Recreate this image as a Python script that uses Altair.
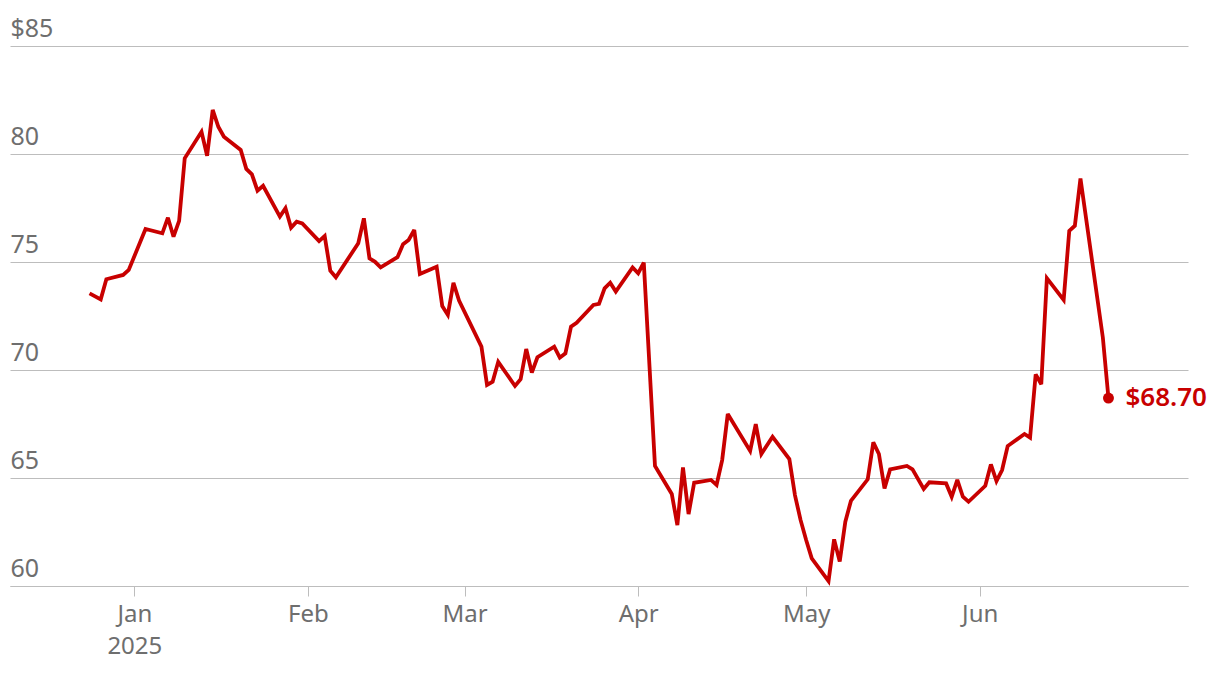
import altair as alt
import pandas as pd

dates = ["2024-12-24","2024-12-26","2024-12-27","2024-12-30","2024-12-31",
 "2025-01-03","2025-01-06","2025-01-07","2025-01-08","2025-01-09","2025-01-10","2025-01-13","2025-01-14","2025-01-15","2025-01-16","2025-01-17","2025-01-20","2025-01-21","2025-01-22","2025-01-23","2025-01-24","2025-01-27","2025-01-28","2025-01-29","2025-01-30","2025-01-31",
 "2025-02-03","2025-02-04","2025-02-05","2025-02-06","2025-02-10","2025-02-11","2025-02-12","2025-02-13","2025-02-14","2025-02-17","2025-02-18","2025-02-19","2025-02-20","2025-02-21","2025-02-24","2025-02-25","2025-02-26","2025-02-27","2025-02-28",
 "2025-03-04","2025-03-05","2025-03-06","2025-03-07","2025-03-10","2025-03-11","2025-03-12","2025-03-13","2025-03-14","2025-03-17","2025-03-18","2025-03-19","2025-03-20","2025-03-21","2025-03-24","2025-03-25","2025-03-26","2025-03-27","2025-03-28","2025-03-31",
 "2025-04-01","2025-04-02","2025-04-04","2025-04-07","2025-04-08","2025-04-09","2025-04-10","2025-04-11","2025-04-14","2025-04-15","2025-04-16","2025-04-17","2025-04-21","2025-04-22","2025-04-23","2025-04-25","2025-04-28","2025-04-29","2025-04-30",
 "2025-05-01","2025-05-02","2025-05-05","2025-05-06","2025-05-07","2025-05-08","2025-05-09","2025-05-12","2025-05-13","2025-05-14","2025-05-15","2025-05-16","2025-05-19","2025-05-20","2025-05-22","2025-05-23","2025-05-26","2025-05-27","2025-05-28","2025-05-29","2025-05-30",
 "2025-06-02","2025-06-03","2025-06-04","2025-06-05","2025-06-06","2025-06-09","2025-06-10","2025-06-11","2025-06-12","2025-06-13","2025-06-16","2025-06-17","2025-06-18","2025-06-19","2025-06-23","2025-06-24"]

prices = [73.55,73.27,74.20,74.40,74.63,
 76.53,76.33,77.05,76.17,76.90,79.80,81.03,79.92,82.04,81.26,80.80,80.19,79.31,79.06,78.30,78.53,77.10,77.49,76.59,76.87,76.79,
 75.97,76.20,74.60,74.29,75.87,77.02,75.17,75.01,74.75,75.22,75.82,76.02,76.48,74.44,74.78,72.96,72.55,74.04,73.21,
 71.08,69.31,69.46,70.38,69.26,69.57,70.97,69.88,70.59,71.08,70.57,70.77,72.01,72.19,73.01,73.06,73.78,74.04,73.63,74.75,
 74.48,74.97,65.56,64.26,62.82,65.49,63.33,64.78,64.91,64.68,65.83,67.96,66.25,67.49,66.11,66.91,65.88,64.21,63.06,
 62.13,61.28,60.23,62.16,61.13,62.98,63.94,64.94,66.65,66.11,64.52,65.40,65.56,65.40,64.49,64.80,64.75,64.13,64.91,64.13,63.90,
 64.64,65.63,64.86,65.37,66.48,67.04,66.87,69.80,69.34,74.25,73.24,76.44,76.68,78.87,71.50,68.70]

y_ticks = [60, 65, 70, 75, 80, 85]
x_tick_months = [1, 2, 3, 4, 5, 6]

df = pd.DataFrame({"date": dates, "price": prices})
last = pd.DataFrame({"date": [dates[-1]], "price": [prices[-1]],
                     "label": ["$" + format(prices[-1], ".2f")]})

RED = "#c80000"
GRAY = "#6e6e6e"
FONT = "Noto Sans"

x_scale = alt.Scale(type="utc",
                    domain=[alt.DateTime(year=2024, month=12, date=9, hours=19, utc=True),
                            alt.DateTime(year=2025, month=7, date=8, hours=5, utc=True)])
y_scale = alt.Scale(domain=[60, 85], nice=False, zero=False)

x_axis = alt.Axis(
    values=[alt.DateTime(year=2025, month=m, date=1, utc=True) for m in x_tick_months],
    labelExpr="utcmonth(datum.value) == 0 ? [utcFormat(datum.value, '%b'), utcFormat(datum.value, '%Y')] : utcFormat(datum.value, '%b')",
    title=None, grid=False, domain=True, domainColor="#bdbdbd", domainWidth=1,
    ticks=True, tickColor="#bdbdbd", tickSize=10, tickWidth=1,
    labelFont=FONT, labelFontSize=24, labelColor=GRAY, labelPadding=6,
    labelLineHeight=32, labelBaseline="top")

y_axis = alt.Axis(
    values=y_ticks, title=None, domain=False, ticks=False, tickSize=0,
    grid=True, gridColor="#bdbdbd", gridWidth=1,
    labelExpr="datum.value == 85 ? '$' + datum.label : datum.label",
    labelAlign="left", labelBaseline="alphabetic", labelOffset=-10, labelPadding=0,
    labelFont=FONT, labelFontSize=25, labelColor=GRAY)

line = alt.Chart(df).mark_line(color=RED, strokeWidth=3.8, strokeJoin="miter", strokeMiterLimit=3).encode(
    x=alt.X("date:T", scale=x_scale, axis=x_axis),
    y=alt.Y("price:Q", scale=y_scale, axis=y_axis),
)

dot = alt.Chart(last).mark_circle(color=RED, size=120, opacity=1).encode(
    x=alt.X("date:T", scale=x_scale),
    y=alt.Y("price:Q", scale=y_scale),
)

label = alt.Chart(last).mark_text(color=RED, font=FONT, fontSize=26, fontWeight=600,
                                  align="left", baseline="middle", dx=17).encode(
    x=alt.X("date:T", scale=x_scale),
    y=alt.Y("price:Q", scale=y_scale),
    text="label:N",
)

chart = alt.layer(line, dot, label).properties(
    width=1178, height=540,
    autosize=alt.AutoSizeParams(type="none"),
    padding={"left": 2, "top": 38, "right": 22, "bottom": 80},
).configure_view(stroke=None)

chart.save("out.html", embed_options={"renderer": "svg", "actions": False})
